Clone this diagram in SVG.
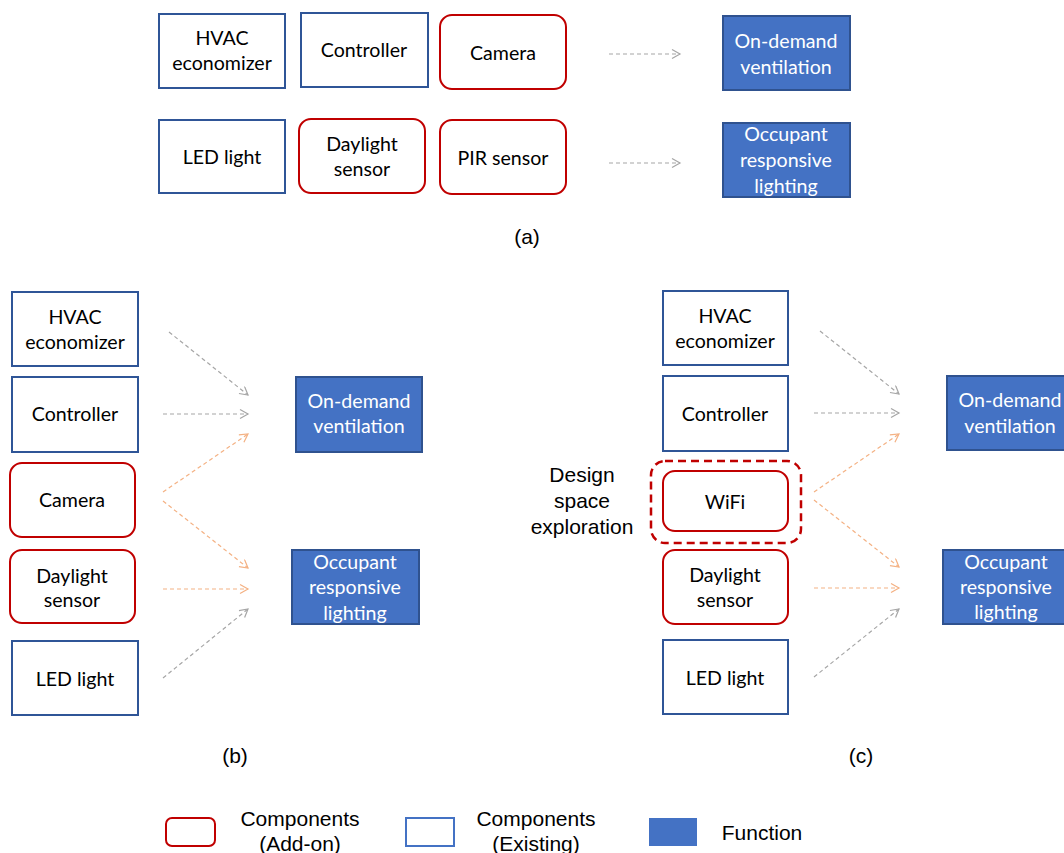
<svg xmlns="http://www.w3.org/2000/svg" width="1064" height="853" viewBox="0 0 1064 853">
<defs>
<style>
.ex{fill:#fff;stroke:#2F5597;stroke-width:2}
.ad{fill:#fff;stroke:#C00000;stroke-width:2}
.fn{fill:#4472C4;stroke:#2F528F;stroke-width:2}
.t{font-family:Lato,"Open Sans","Liberation Sans",sans-serif;font-size:19.6px;fill:#000;text-anchor:middle}
.tw{font-family:Lato,"Open Sans","Liberation Sans",sans-serif;font-size:19.6px;fill:#fff;text-anchor:middle}
.a{font-family:"Liberation Sans",Arial,sans-serif;font-size:21px;fill:#000;text-anchor:middle}
.g{fill:none;stroke:#A6A6A6;stroke-width:1.2;stroke-dasharray:4 3;marker-end:url(#mg)}
.o{fill:none;stroke:#F4B183;stroke-width:1.2;stroke-dasharray:4 3;marker-end:url(#mo)}
</style>
<marker id="mg" markerUnits="userSpaceOnUse" markerWidth="12" markerHeight="12" refX="9" refY="5" orient="auto"><path d="M1,0.5 L9,5 L1,9.5" fill="none" stroke="#A6A6A6" stroke-width="1.2"/></marker>
<marker id="mo" markerUnits="userSpaceOnUse" markerWidth="12" markerHeight="12" refX="9" refY="5" orient="auto"><path d="M1,0.5 L9,5 L1,9.5" fill="none" stroke="#F4B183" stroke-width="1.2"/></marker>
</defs>
<rect width="1064" height="853" fill="#fff"/>

<!-- (a) -->
<g id="a-hvac"><rect class="ex" x="159" y="14" width="126" height="74"/><text class="t" x="222" y="45">HVAC</text><text class="t" x="222" y="70">economizer</text></g>
<g id="a-controller"><rect class="ex" x="301" y="13" width="127" height="74"/><text class="t" x="364" y="57">Controller</text></g>
<g id="a-camera"><rect class="ad" x="440" y="15" width="126" height="74" rx="12"/><text class="t" x="503" y="60">Camera</text></g>
<g id="a-ondemand"><rect class="fn" x="723" y="16" width="127" height="74"/><text class="tw" x="786" y="48">On-demand</text><text class="tw" x="786" y="74">ventilation</text></g>
<g id="a-led"><rect class="ex" x="159" y="120" width="126" height="73"/><text class="t" x="222" y="164">LED light</text></g>
<g id="a-daylight"><rect class="ad" x="299" y="119" width="126" height="74" rx="12"/><text class="t" x="362" y="151">Daylight</text><text class="t" x="362" y="176">sensor</text></g>
<g id="a-pir"><rect class="ad" x="440" y="120" width="126" height="74" rx="12"/><text class="t" x="503" y="165">PIR sensor</text></g>
<g id="a-occupant"><rect class="fn" x="723" y="123" width="127" height="74"/><text class="tw" x="786" y="141">Occupant</text><text class="tw" x="786" y="167">responsive</text><text class="tw" x="786" y="193">lighting</text></g>
<text class="a" x="527" y="244">(a)</text>

<!-- (b) -->
<g id="b-hvac"><rect class="ex" x="12" y="292" width="126" height="74"/><text class="t" x="75" y="324">HVAC</text><text class="t" x="75" y="349">economizer</text></g>
<g id="b-controller"><rect class="ex" x="12" y="377" width="126" height="75"/><text class="t" x="75" y="421">Controller</text></g>
<g id="b-camera"><rect class="ad" x="10" y="463" width="125" height="74" rx="12"/><text class="t" x="72" y="507">Camera</text></g>
<g id="b-daylight"><rect class="ad" x="10" y="550" width="125" height="73" rx="12"/><text class="t" x="72" y="583">Daylight</text><text class="t" x="72" y="607">sensor</text></g>
<g id="b-led"><rect class="ex" x="12" y="641" width="126" height="74"/><text class="t" x="75" y="686">LED light</text></g>
<g id="b-ondemand"><rect class="fn" x="296" y="377" width="126" height="75"/><text class="tw" x="359" y="408">On-demand</text><text class="tw" x="359" y="433">ventilation</text></g>
<g id="b-occupant"><rect class="fn" x="292" y="550" width="127" height="74"/><text class="tw" x="355" y="569">Occupant</text><text class="tw" x="355" y="594">responsive</text><text class="tw" x="355" y="620">lighting</text></g>
<text class="a" x="235" y="763">(b)</text>

<!-- (c) -->
<g id="c-hvac"><rect class="ex" x="663" y="291" width="125" height="74"/><text class="t" x="725" y="323">HVAC</text><text class="t" x="725" y="348">economizer</text></g>
<g id="c-controller"><rect class="ex" x="663" y="376" width="125" height="75"/><text class="t" x="725" y="421">Controller</text></g>
<g id="c-dse"><rect x="651" y="461" width="150" height="82" rx="14" fill="none" stroke="#C00000" stroke-width="2.5" stroke-dasharray="8 5"/><text class="a" x="582" y="482">Design</text><text class="a" x="582" y="508">space</text><text class="a" x="582" y="534">exploration</text></g>
<g id="c-wifi"><rect class="ad" x="663" y="471" width="125" height="60" rx="12"/><text class="t" x="725" y="509">WiFi</text></g>
<g id="c-daylight"><rect class="ad" x="663" y="550" width="125" height="74" rx="12"/><text class="t" x="725" y="582">Daylight</text><text class="t" x="725" y="607">sensor</text></g>
<g id="c-led"><rect class="ex" x="663" y="640" width="125" height="74"/><text class="t" x="725" y="685">LED light</text></g>
<g id="c-ondemand"><rect class="fn" x="947" y="376" width="126" height="74"/><text class="tw" x="1010" y="407">On-demand</text><text class="tw" x="1010" y="433">ventilation</text></g>
<g id="c-occupant"><rect class="fn" x="943" y="550" width="127" height="74"/><text class="tw" x="1006" y="569">Occupant</text><text class="tw" x="1006" y="594">responsive</text><text class="tw" x="1006" y="619">lighting</text></g>
<text class="a" x="861" y="763">(c)</text>

<!-- connectors -->
<g id="connectors">
<path class="g" d="M609,54 L680,54"/>
<path class="g" d="M609,163 L680,163"/>
<path class="g" d="M169,332 L248,395"/>
<path class="g" d="M163,414 L248,414"/>
<path class="o" d="M163,492 L248,434"/>
<path class="o" d="M163,501 L248,568"/>
<path class="o" d="M163,589 L248,589"/>
<path class="g" d="M163,678 L248,609"/>
<path class="g" d="M820,331 L899,394"/>
<path class="g" d="M814,413 L899,413"/>
<path class="o" d="M814,492 L899,434"/>
<path class="o" d="M814,500 L899,567"/>
<path class="o" d="M814,588 L899,588"/>
<path class="g" d="M814,677 L899,609"/>
</g>

<!-- legend -->
<g id="legend-addon"><rect x="166" y="818" width="49" height="28" rx="6" fill="#fff" stroke="#C00000" stroke-width="2"/><text class="a" x="300" y="826">Components</text><text class="a" x="300" y="851">(Add-on)</text></g>
<g id="legend-existing"><rect x="406" y="818" width="48" height="28" fill="#fff" stroke="#4472C4" stroke-width="2"/><text class="a" x="536" y="826">Components</text><text class="a" x="536" y="851">(Existing)</text></g>
<g id="legend-function"><rect x="649" y="818" width="48" height="28" fill="#4472C4"/><text class="a" x="762" y="840">Function</text></g>
</svg>
